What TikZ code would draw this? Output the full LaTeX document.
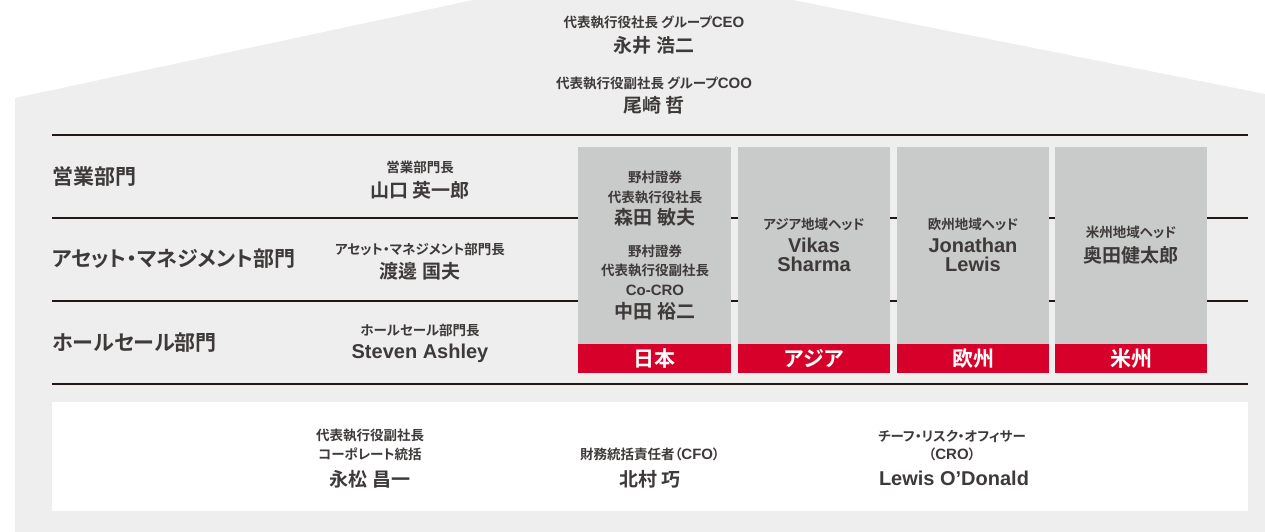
\documentclass[tikz,border=0pt]{standalone}
\usepackage{fontspec}
\setmainfont{Noto Sans CJK JP}[RawFeature=+palt, BoldFont={Noto Sans CJK JP Bold}]
\newfontfamily\lat{Liberation Sans}[UprightFont={Liberation Sans Bold}, BoldFont={Liberation Sans Bold}]
\definecolor{bgg}{RGB}{238,238,238}
\definecolor{boxg}{RGB}{201,202,202}
\definecolor{nred}{RGB}{215,0,42}
\definecolor{tx}{RGB}{62,58,57}
\definecolor{ln}{RGB}{35,24,21}
\newcommand\latS[1]{{\lat\bfseries\fontsize{15}{15}\selectfont #1}}
\newcommand\latN[1]{{\lat\bfseries\fontsize{20}{20}\selectfont #1}}
\tikzset{
  sm/.style={anchor=base, text=tx, inner sep=0pt, font=\bfseries\fontsize{13.5}{13.5}\selectfont},
  big/.style={anchor=base, text=tx, inner sep=0pt, font=\bfseries\fontsize{19}{19}\selectfont},
  dept/.style={anchor=base west, text=tx, inner sep=0pt, font=\bfseries\fontsize{21}{21}\selectfont},
  reg/.style={anchor=base, text=white, inner sep=0pt, font=\bfseries\fontsize{21}{21}\selectfont},
  gbox/.style={fill=boxg, draw=none, inner sep=0pt, minimum width=152.5pt, minimum height=197pt},
  rbox/.style={fill=nred, draw=none, inner sep=0pt, minimum width=152.5pt, minimum height=29pt},
  sep/.style={draw=ln, line width=1.1pt}
}
\begin{document}
\begin{tikzpicture}[x=1pt,y=-1pt]
\useasboundingbox (0,0) rectangle (1265,532);
% background house
\fill[bgg] (15,532) -- (15,98) -- (473,0) -- (793,0) -- (1265,94) -- (1265,532) -- cycle;
% separator lines
\coordinate (l1a) at (52,135); \coordinate (l1b) at (1248,135);
\coordinate (l2a) at (52,218); \coordinate (l2b) at (1248,218);
\coordinate (l3a) at (52,301); \coordinate (l3b) at (1248,301);
\coordinate (l4a) at (52,384); \coordinate (l4b) at (1248,384);
\draw[sep] (l1a) -- (l1b);
\draw[sep] (l2a) -- (l2b);
\draw[sep] (l3a) -- (l3b);
\draw[sep] (l4a) -- (l4b);
% white bottom panel
\node[fill=white, inner sep=0pt, minimum width=1196pt, minimum height=109pt] (panel) at (650,456.5) {};
% top executives
\node[sm] (ceot) at (654,27.3) {代表執行役社長 グループ\latS{CEO}};
\node[big] (ceon) at (654,53) {永井 浩二};
\node[sm] (coot) at (654,88.3) {代表執行役副社長 グループ\latS{COO}};
\node[big] (coon) at (654,113) {尾崎 哲};
% departments
\node[dept] (d1) at (52,184.8) {営業部門};
\node[dept] (d2) at (52,266.3) {アセット・マネジメント部門};
\node[dept] (d3) at (52,350.8) {ホールセール部門};
% department heads
\node[sm] (h1t) at (420,172.8) {営業部門長};
\node[big] (h1n) at (420,197) {山口 英一郎};
\node[sm] (h2t) at (420,254.3) {アセット・マネジメント部門長};
\node[big] (h2n) at (420,278) {渡邊 国夫};
\node[sm] (h3t) at (420,335.8) {ホールセール部門長};
\node[big] (h3n) at (420,358.2) {\latN{Steven Ashley}};
% region boxes
\node[gbox] (bj) at (654.5,245.5) {};
\node[gbox] (ba) at (814,245.5) {};
\node[gbox] (be) at (973,245.5) {};
\node[gbox] (bu) at (1131,245.5) {};
\node[rbox] (rj) at (654.5,358.5) {};
\node[rbox] (ra) at (814,358.5) {};
\node[rbox] (re) at (973,358.5) {};
\node[rbox] (ru) at (1131,358.5) {};
\node[reg] (rjt) at (654.5,366.3) {日本};
\node[reg] (rat) at (814,366.3) {アジア};
\node[reg] (ret) at (973,366.3) {欧州};
\node[reg] (rut) at (1131,366.3) {米州};
% Japan box
\node[sm] (j1) at (655,182.3) {野村證券};
\node[sm] (j2) at (655,202.3) {代表執行役社長};
\node[big] (j3) at (655,224.5) {森田 敏夫};
\node[sm] (j4) at (655,256.8) {野村證券};
\node[sm] (j5) at (655,275.8) {代表執行役副社長};
\node[sm] (j6) at (655,295.4) {\latS{Co-CRO}};
\node[big] (j7) at (655,318) {中田 裕二};
% Asia
\node[sm] (a1) at (814,229.3) {アジア地域ヘッド};
\node[big] (a2) at (814,252.7) {\latN{Vikas}};
\node[big] (a3) at (814,271.7) {\latN{Sharma}};
% Europe
\node[sm] (e1) at (973,229.3) {欧州地域ヘッド};
\node[big] (e2) at (973,252.7) {\latN{Jonathan}};
\node[big] (e3) at (973,271.7) {\latN{Lewis}};
% Americas
\node[sm] (u1) at (1131,237.8) {米州地域ヘッド};
\node[big] (u2) at (1131,262.5) {奥田健太郎};
% bottom panel
\node[sm] (p1) at (370,440.8) {代表執行役副社長};
\node[sm] (p2) at (370,459.8) {コーポレート統括};
\node[big] (p3) at (370,486) {永松 昌一};
\node[sm] (f1) at (650,459.3) {財務統括責任者（\latS{CFO}）};
\node[big] (f2) at (650,486) {北村 巧};
\node[sm] (c1) at (952,441.3) {チーフ・リスク・オフィサー};
\node[sm] (c2) at (952,459.8) {（\latS{CRO}）};
\node[big] (c3) at (954,485.7) {\latN{Lewis O’Donald}};
\end{tikzpicture}
\end{document}
